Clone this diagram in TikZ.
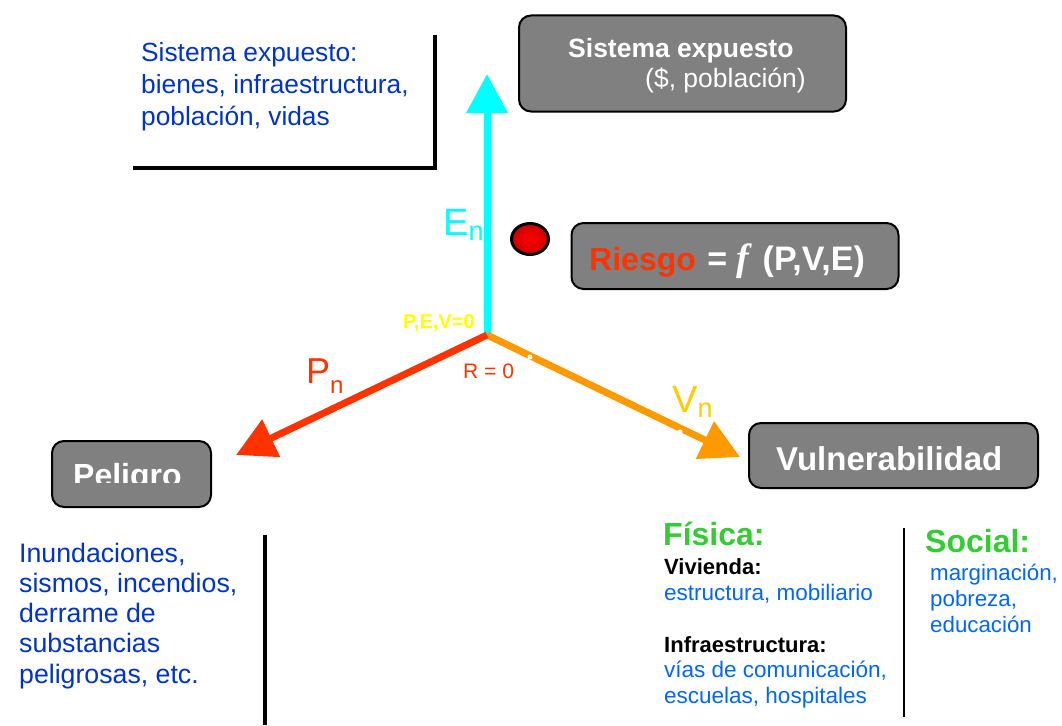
\documentclass[tikz,border=0pt]{standalone}
\usepackage{fontspec}
\setmainfont{Liberation Sans}
\newfontfamily\seriffont{Liberation Serif}
\usetikzlibrary{arrows.meta}
\definecolor{blueA}{HTML}{0033CC}
\definecolor{blueB}{HTML}{0066FF}
\definecolor{greenC}{HTML}{33CC33}
\definecolor{redO}{HTML}{FF3300}
\definecolor{orangeC}{HTML}{FF9900}
\definecolor{cyanC}{HTML}{00FFFF}
\definecolor{yellowC}{HTML}{FFFF00}
\definecolor{goldC}{HTML}{FFCC00}
\definecolor{boxgray}{HTML}{808080}
\newcommand\ltab[1]{\begin{tabular}[t]{@{}l@{}}#1\end{tabular}}
\newcommand\fs[2]{\fontsize{#1}{#2}\selectfont}
\begin{document}
\begin{tikzpicture}[x=1pt,y=-1pt,
  txt/.style={inner sep=0pt, anchor=base west},
  gbox/.style={draw=black, line width=2pt, fill=boxgray, rounded corners=12pt, inner sep=0pt},
  axisline/.style={line width=7pt, -{Triangle[length=39pt,width=40pt]}},
  rule/.style={draw=black, line width=4pt},
  tick/.style={fill=white, draw=none}]
\fill[white] (0,0) rectangle (1062,725);
\useasboundingbox (0,0) rectangle (1062,725);

% boxes
\node[gbox, minimum width=327pt, minimum height=96pt] (sisbox) at (682.5,63.5) {};
\node[gbox, minimum width=327pt, minimum height=66pt] (riesgo) at (735,256) {};
\node[gbox, minimum width=159pt, minimum height=66pt] (peligro) at (131.5,474) {};
\node[gbox, minimum width=289pt, minimum height=65pt] (vuln) at (893.5,455.5) {};

% box texts
\node[txt, text=white, font=\bfseries\fs{26.5}{30}] (sist1) at (568,58) {Sistema expuesto};
\node[txt, text=white, font=\fs{26.5}{30}] (sist2) at (645,88) {(\$, población)};
\node[txt, text=white, font=\bfseries\fs{32}{36}] (rtxt) at (589,270)
  {\textcolor{redO}{Riesgo}\fs{34}{36}\hspace{2pt} = {\fs{38}{36}\seriffont\itshape\bfseries f}\hspace{4pt} (P,V,E)};
\node[txt, text=white, font=\bfseries\fs{33}{36}] (vtxt) at (776,470) {Vulnerabilidad};
\begin{scope}
  \clip (52,441) rectangle (211,482);
  \node[txt, text=white, font=\bfseries\fs{32}{36}] (ptxt) at (73,486) {Peligro};
\end{scope}

% axes
\coordinate (O) at (487,335);
\coordinate (Etip) at (487,74);
\coordinate (Ptip) at (236,455);
\coordinate (Vtip) at (740,457);
\draw[axisline, draw=cyanC, fill=cyanC] (O) -- (Etip);
\draw[axisline, draw=orangeC, fill=orangeC] (O) -- (Vtip);
\draw[axisline, draw=redO, fill=redO] (O) -- (Ptip);
\fill[tick] (530,357) circle (2.5pt);
\fill[tick] (339,412) circle (2.5pt);
\fill[tick] (680,432) circle (2.5pt);

% axis labels
\node[txt, text=cyanC, font=\fs{38}{40}] (En) at (443,235) {E\raisebox{-5pt}{\fs{27}{27}n}};
\node[txt, text=redO, font=\fs{36}{40}] (Pn) at (306,383) {P\raisebox{-10pt}{\fs{24}{24}n}};
\node[txt, text=goldC, font=\fs{38}{40}] (Vn) at (672,412) {V\raisebox{-5pt}{\fs{27}{27}n}};
\node[txt, text=yellowC, font=\bfseries\fs{20}{22}] (pev) at (403,328) {P,E,V=0};
\node[txt, text=redO, font=\fs{21}{24}] (r0) at (463,378) {R = 0};

% red ball
\shadedraw[draw=black, line width=3pt, inner color=red, outer color=red!80!black]
  (530,239) ellipse [x radius=18.5pt, y radius=15.5pt];

% top-left text
\node[txt, text=blueA, font=\fs{26.3}{31.5}] (sisexp) at (141,62)
  {\ltab{Sistema expuesto:\\bienes, infraestructura,\\población, vidas}};
\draw[rule] (133,168) -- (435,168) -- (435,35);

% bottom-left text
\node[txt, text=blueA, font=\fs{26.7}{30.3}] (inund) at (19,562)
  {\ltab{Inundaciones,\\sismos, incendios,\\derrame de\\substancias\\peligrosas, etc.}};
\draw[rule] (265,535) -- (265,725);

% vulnerability detail
\node[txt, text=greenC, font=\bfseries\fs{32}{36}] (fisica) at (663,545) {Física:};
\node[txt, text=black, font=\bfseries\fs{22}{26}] (viv) at (664,574) {Vivienda:};
\node[txt, text=blueB, font=\fs{22.5}{26}] (estr) at (664,600) {estructura, mobiliario};
\node[txt, text=black, font=\bfseries\fs{22}{26}] (infra) at (664,652) {Infraestructura:};
\node[txt, text=blueB, font=\fs{22.5}{26}] (vias) at (664,677)
  {\ltab{vías de comunicación,\\escuelas, hospitales}};
\draw[draw=black, line width=2.5pt] (904,528) -- (904,717);
\node[txt, text=greenC, font=\bfseries\fs{32}{36}] (social) at (925,552) {Social:};
\node[txt, text=blueB, font=\fs{22.3}{26}] (marg) at (930,580)
  {\ltab{marginación,\\pobreza,\\educación}};
\end{tikzpicture}
\end{document}
